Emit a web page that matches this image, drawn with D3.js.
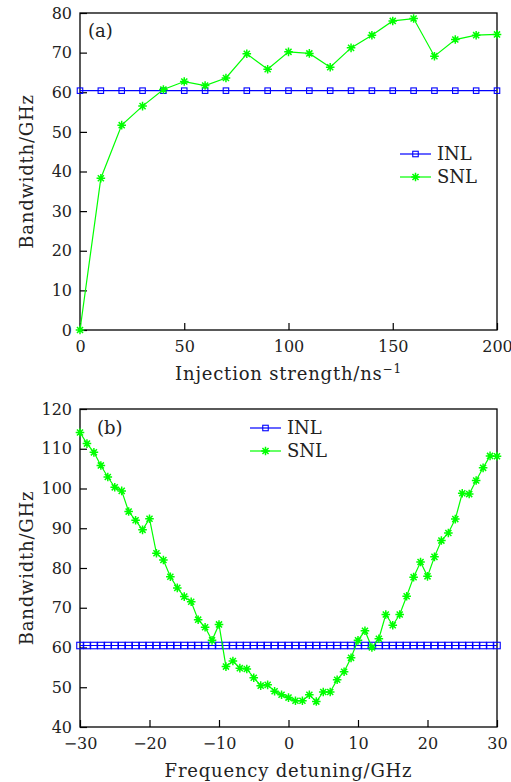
<!DOCTYPE html>
<html>
<head>
<meta charset="utf-8">
<script src="https://cdn.jsdelivr.net/npm/d3@7"></script>
<style>
  html, body { margin: 0; padding: 0; background: #fff; }
  svg { display: block; }
  text { font-family: "DejaVu Serif", "Liberation Serif", serif; fill: #222; }
</style>
</head>
<body>
<svg id="chart" width="511" height="782"></svg>
<script>
// ---------- Data ----------
const injectionStrength = [0,10,20,30,40,50,60,70,80,90,100,110,120,130,140,150,160,170,180,190,200];
const snlA = [0,38.3,51.7,56.5,60.7,62.7,61.7,63.6,69.7,65.8,70.2,69.8,66.3,71.2,74.4,78.0,78.6,69.1,73.3,74.4,74.6];
const inlA = [60.4,60.4,60.4,60.4,60.4,60.4,60.4,60.4,60.4,60.4,60.4,60.4,60.4,60.4,60.4,60.4,60.4,60.4,60.4,60.4,60.4];

const detuning = [-30,-29,-28,-27,-26,-25,-24,-23,-22,-21,-20,-19,-18,-17,-16,-15,-14,-13,-12,-11,-10,
  -9,-8,-7,-6,-5,-4,-3,-2,-1,0,1,2,3,4,5,6,7,8,9,10,11,12,13,14,15,16,17,18,19,20,21,22,23,24,25,26,27,28,29,30];
const snlB = [114.1,111.3,109.1,105.8,102.9,100.3,99.4,94.2,92.0,89.6,92.4,83.7,82.0,77.8,75.0,72.8,71.5,67.0,65.1,61.8,65.8,
  55.2,56.6,54.8,54.6,52.4,50.4,50.6,49.0,48.1,47.4,46.6,46.6,48.1,46.4,48.8,48.8,51.9,53.9,57.4,61.8,
  64.2,60.0,62.2,68.3,65.6,68.3,72.9,77.7,81.5,77.9,82.8,86.9,88.8,92.3,98.8,98.6,102.0,105.2,108.2,108.1];
const inlB = detuning.map(() => 60.5);

const yTicksA = [0,10,20,30,40,50,60,70,80];
const xTicksA = [0,50,100,150,200];
const yTicksB = [40,50,60,70,80,90,100,110,120];
const xTicksB = [-30,-20,-10,0,10,20,30];
const seriesNames = ["INL","SNL"];

// ---------- Styles ----------
const BLUE = "#0000ff", GREEN = "#00ff00";
const FS_TICK = 16, FS = 18, LS = "0.8px";
const svg = d3.select("#chart");

function star(g, x, y, r) {
  const d = r * 0.7071;
  const p = `M${x-r},${y}L${x+r},${y}M${x},${y-r}L${x},${y+r}M${x-d},${y-d}L${x+d},${y+d}M${x-d},${y+d}L${x+d},${y-d}`;
  g.append("path").attr("d", p).attr("stroke", GREEN).attr("stroke-width", 1.5).attr("fill", "none");
}
function square(g, x, y, s) {
  g.append("rect").attr("x", x - s/2).attr("y", y - s/2).attr("width", s).attr("height", s)
    .attr("fill", "none").attr("stroke", BLUE).attr("stroke-width", 1.1);
}

function panel(opts) {
  const {left, right, top, bottom, xDom, yDom, xTicks, yTicks, xs, inl, snl, sq, xLabel, tag, tagPos, legPos} = opts;
  const x = d3.scaleLinear().domain(xDom).range([left, right]);
  const y = d3.scaleLinear().domain(yDom).range([bottom, top]);
  const g = svg.append("g");

  const fmt = d => (d < 0 ? "\u2212" + Math.abs(d) : String(d));
  const xAxis = d3.axisBottom(x).tickValues(xTicks).tickSize(-7).tickPadding(11).tickFormat(fmt);
  const yAxis = d3.axisLeft(y).tickValues(yTicks).tickSize(-7).tickPadding(8).tickFormat(fmt);
  const gx = g.append("g").attr("transform", `translate(0,${bottom})`).call(xAxis);
  const gy = g.append("g").attr("transform", `translate(${left},0)`).call(yAxis);
  [gx, gy].forEach(a => {
    a.attr("font-family", null).attr("font-size", null);
    a.select(".domain").remove();
    a.selectAll(".tick line").attr("stroke", "#000").attr("stroke-width", 1.2);
    a.selectAll(".tick text").attr("font-size", FS_TICK).attr("fill", "#222");
  });
  gx.selectAll(".tick text").attr("dy", "0.71em");

  g.append("rect").attr("x", left).attr("y", top).attr("width", right - left).attr("height", bottom - top)
    .attr("fill", "none").attr("stroke", "#000").attr("stroke-width", 1.3);

  const line = d3.line().x((d, i) => x(xs[i])).y(d => y(d));
  const m = g.append("g");
  m.append("path").datum(inl).attr("d", line).attr("fill", "none").attr("stroke", BLUE).attr("stroke-width", 1.2);
  inl.forEach((v, i) => square(m, x(xs[i]), y(v), sq));
  m.append("path").datum(snl).attr("d", line).attr("fill", "none").attr("stroke", GREEN).attr("stroke-width", 1.2);
  snl.forEach((v, i) => star(m, x(xs[i]), y(v), 4.3));

  g.append("text").attr("x", tagPos[0]).attr("y", tagPos[1]).attr("font-size", FS).text(tag);
  const xl = g.append("text").attr("x", (left + right) / 2).attr("y", bottom + 50)
    .attr("text-anchor", "middle").attr("font-size", FS).attr("letter-spacing", LS);
  xLabel(xl);
  g.append("text").attr("transform", `translate(33,${(top + bottom) / 2}) rotate(-90)`)
    .attr("text-anchor", "middle").attr("font-size", FS).attr("letter-spacing", LS).text("Bandwidth/GHz");

  const [lx, ly] = legPos;
  seriesNames.forEach((name, i) => {
    const yy = ly + i * 23;
    const col = i === 0 ? BLUE : GREEN;
    g.append("line").attr("x1", lx).attr("x2", lx + 31).attr("y1", yy).attr("y2", yy).attr("stroke", col).attr("stroke-width", 1.2);
    if (i === 0) square(g, lx + 15.5, yy, 5.5); else star(g, lx + 15.5, yy, 4.3);
    g.append("text").attr("x", lx + 37).attr("y", yy).attr("dy", "0.36em").attr("font-size", FS).text(name);
  });
}

panel({
  left: 80, right: 497, top: 13, bottom: 330,
  xDom: [0, 200], yDom: [0, 80], xTicks: xTicksA, yTicks: yTicksA,
  xs: injectionStrength, inl: inlA, snl: snlA, sq: 5.5,
  xLabel: t => { t.append("tspan").text("Injection strength/ns");
                 t.append("tspan").attr("dy", -7).attr("font-size", 12).text("\u22121"); },
  tag: "(a)", tagPos: [88, 37], legPos: [400, 154]
});

panel({
  left: 80, right: 497, top: 409, bottom: 727,
  xDom: [-30, 30], yDom: [40, 120], xTicks: xTicksB, yTicks: yTicksB,
  xs: detuning, inl: inlB, snl: snlB, sq: 6.5,
  xLabel: t => t.text("Frequency detuning/GHz"),
  tag: "(b)", tagPos: [97, 434], legPos: [250, 428]
});
</script>
</body>
</html>
